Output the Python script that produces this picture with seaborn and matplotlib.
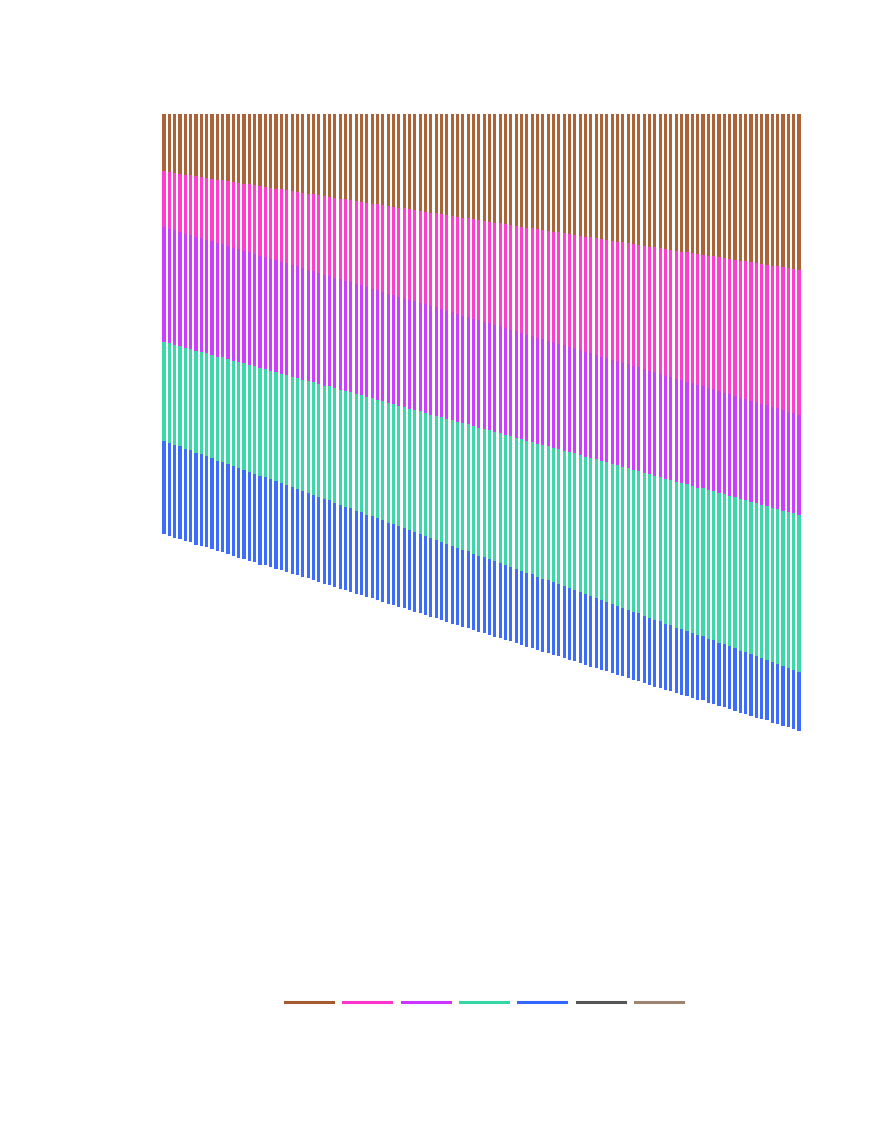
import pandas as pd
import matplotlib.pyplot as plt
import seaborn as sns
from matplotlib.lines import Line2D

# 120 bars, five stacked series hanging down from zero
bars = list(range(1, 121))

brown = [11.4, 11.6, 11.7, 11.9, 12.1, 12.2, 12.4, 12.6, 12.7, 12.9,
         13.1, 13.2, 13.4, 13.6, 13.7, 13.9, 14.0, 14.2, 14.4, 14.5,
         14.7, 14.9, 15.0, 15.2, 15.4, 15.5, 15.7, 15.9, 16.0, 16.2,
         16.4, 16.5, 16.7, 16.9, 17.0, 17.2, 17.4, 17.5, 17.7, 17.9,
         18.0, 18.2, 18.4, 18.5, 18.7, 18.8, 19.0, 19.2, 19.3, 19.5,
         19.7, 19.8, 20.0, 20.2, 20.3, 20.5, 20.7, 20.8, 21.0, 21.2,
         21.3, 21.5, 21.7, 21.8, 22.0, 22.2, 22.3, 22.5, 22.7, 22.8,
         23.0, 23.2, 23.3, 23.5, 23.6, 23.8, 24.0, 24.1, 24.3, 24.5,
         24.6, 24.8, 25.0, 25.1, 25.3, 25.5, 25.6, 25.8, 26.0, 26.1,
         26.3, 26.5, 26.6, 26.8, 27.0, 27.1, 27.3, 27.5, 27.6, 27.8,
         28.0, 28.1, 28.3, 28.4, 28.6, 28.8, 28.9, 29.1, 29.3, 29.4,
         29.6, 29.8, 29.9, 30.1, 30.3, 30.4, 30.6, 30.8, 30.9, 31.1]

pink = [11.2, 11.3, 11.5, 11.6, 11.8, 11.9, 12.1, 12.2, 12.4, 12.5,
        12.7, 12.8, 13.0, 13.1, 13.3, 13.4, 13.6, 13.7, 13.9, 14.0,
        14.2, 14.3, 14.5, 14.6, 14.8, 14.9, 15.1, 15.2, 15.4, 15.5,
        15.7, 15.8, 16.0, 16.1, 16.3, 16.4, 16.6, 16.7, 16.9, 17.0,
        17.2, 17.3, 17.5, 17.6, 17.8, 17.9, 18.1, 18.2, 18.4, 18.5,
        18.7, 18.8, 19.0, 19.1, 19.3, 19.4, 19.6, 19.7, 19.9, 20.0,
        20.2, 20.3, 20.5, 20.6, 20.8, 20.9, 21.1, 21.2, 21.4, 21.5,
        21.7, 21.8, 22.0, 22.1, 22.3, 22.4, 22.6, 22.7, 22.9, 23.0,
        23.2, 23.3, 23.5, 23.6, 23.8, 23.9, 24.1, 24.2, 24.4, 24.5,
        24.7, 24.8, 25.0, 25.1, 25.3, 25.4, 25.6, 25.7, 25.9, 26.0,
        26.2, 26.3, 26.5, 26.6, 26.8, 26.9, 27.1, 27.2, 27.4, 27.5,
        27.7, 27.8, 28.0, 28.1, 28.3, 28.4, 28.6, 28.7, 28.9, 29.0]

purple = [22.9, 22.9, 22.9, 22.8, 22.8, 22.8, 22.8, 22.7, 22.7, 22.7,
          22.7, 22.6, 22.6, 22.6, 22.6, 22.5, 22.5, 22.5, 22.5, 22.4,
          22.4, 22.4, 22.4, 22.3, 22.3, 22.3, 22.3, 22.2, 22.2, 22.2,
          22.2, 22.1, 22.1, 22.1, 22.1, 22.0, 22.0, 22.0, 22.0, 21.9,
          21.9, 21.9, 21.9, 21.9, 21.8, 21.8, 21.8, 21.8, 21.7, 21.7,
          21.7, 21.7, 21.6, 21.6, 21.6, 21.6, 21.5, 21.5, 21.5, 21.5,
          21.4, 21.4, 21.4, 21.4, 21.3, 21.3, 21.3, 21.3, 21.2, 21.2,
          21.2, 21.2, 21.1, 21.1, 21.1, 21.1, 21.0, 21.0, 21.0, 21.0,
          21.0, 20.9, 20.9, 20.9, 20.9, 20.8, 20.8, 20.8, 20.8, 20.7,
          20.7, 20.7, 20.7, 20.6, 20.6, 20.6, 20.6, 20.5, 20.5, 20.5,
          20.5, 20.4, 20.4, 20.4, 20.4, 20.3, 20.3, 20.3, 20.3, 20.2,
          20.2, 20.2, 20.2, 20.1, 20.1, 20.1, 20.1, 20.0, 20.0, 20.0]

teal = [19.8, 19.9, 20.0, 20.1, 20.2, 20.3, 20.4, 20.5, 20.6, 20.7,
        20.8, 20.9, 21.0, 21.1, 21.2, 21.3, 21.4, 21.5, 21.6, 21.7,
        21.7, 21.8, 21.9, 22.0, 22.1, 22.2, 22.3, 22.4, 22.5, 22.6,
        22.7, 22.8, 22.9, 23.0, 23.1, 23.2, 23.3, 23.4, 23.5, 23.6,
        23.7, 23.8, 23.9, 24.0, 24.1, 24.2, 24.3, 24.4, 24.5, 24.6,
        24.7, 24.8, 24.9, 25.0, 25.1, 25.2, 25.3, 25.4, 25.5, 25.6,
        25.6, 25.7, 25.8, 25.9, 26.0, 26.1, 26.2, 26.3, 26.4, 26.5,
        26.6, 26.7, 26.8, 26.9, 27.0, 27.1, 27.2, 27.3, 27.4, 27.5,
        27.6, 27.7, 27.8, 27.9, 28.0, 28.1, 28.2, 28.3, 28.4, 28.5,
        28.6, 28.7, 28.8, 28.9, 29.0, 29.1, 29.2, 29.3, 29.4, 29.5,
        29.5, 29.6, 29.7, 29.8, 29.9, 30.0, 30.1, 30.2, 30.3, 30.4,
        30.5, 30.6, 30.7, 30.8, 30.9, 31.0, 31.1, 31.2, 31.3, 31.4]

blue = [18.7, 18.6, 18.6, 18.5, 18.5, 18.4, 18.4, 18.3, 18.2, 18.2,
        18.1, 18.1, 18.0, 17.9, 17.9, 17.8, 17.8, 17.7, 17.7, 17.6,
        17.5, 17.5, 17.4, 17.4, 17.3, 17.3, 17.2, 17.1, 17.1, 17.0,
        17.0, 16.9, 16.8, 16.8, 16.7, 16.7, 16.6, 16.6, 16.5, 16.4,
        16.4, 16.3, 16.3, 16.2, 16.1, 16.1, 16.0, 16.0, 15.9, 15.9,
        15.8, 15.7, 15.7, 15.6, 15.6, 15.5, 15.5, 15.4, 15.3, 15.3,
        15.2, 15.2, 15.1, 15.0, 15.0, 14.9, 14.9, 14.8, 14.8, 14.7,
        14.6, 14.6, 14.5, 14.5, 14.4, 14.4, 14.3, 14.2, 14.2, 14.1,
        14.1, 14.0, 13.9, 13.9, 13.8, 13.8, 13.7, 13.7, 13.6, 13.5,
        13.5, 13.4, 13.4, 13.3, 13.2, 13.2, 13.1, 13.1, 13.0, 13.0,
        12.9, 12.8, 12.8, 12.7, 12.7, 12.6, 12.6, 12.5, 12.4, 12.4,
        12.3, 12.3, 12.2, 12.1, 12.1, 12.0, 12.0, 11.9, 11.9, 11.8]

series_names = ['s1', 's2', 's3', 's4', 's5', 's6', 's7']
line_colors = ['#a65a32', '#ff33cc', '#cc33ff', '#33d6a5', '#3366ff', '#555555', '#9c8570']
bar_colors = ['#ad6338', '#ff3dce', '#cd3dff', '#3dd8aa', '#3d6dff']
stack = [brown, pink, purple, teal, blue]

fig = plt.figure(figsize=(8.86, 11.3), dpi=100)
ax = fig.add_axes([161.3 / 886, 166 / 1130, 640.4 / 886, 850 / 1130])

# cumulative depth of each layer (values hang downward from 0)
rows = []
for k in range(len(stack)):
    for i, b in enumerate(bars):
        rows.append({'bar': b, 'layer': k, 'depth': -sum(s[i] for s in stack[:k + 1])})
df = pd.DataFrame(rows)

# draw deepest layer first, shallower ones on top
for k in reversed(range(len(stack))):
    sub = df[df['layer'] == k]
    sns.barplot(data=sub, x='bar', y='depth', color=bar_colors[k], width=0.58,
                saturation=1, linewidth=0, ax=ax, order=bars)

ax.set_ylim(-170, 0)
ax.set_xlim(-0.5, len(bars) - 0.5)
ax.axis('off')

handles = [Line2D([0], [0], color=c, lw=2.2) for c in line_colors]
fig.legend(handles, ['' for _ in series_names], loc='center', ncol=7,
           bbox_to_anchor=(484 / 886, 1 - 1003 / 1130), frameon=False,
           handlelength=3.45, handletextpad=0, columnspacing=0.75)

fig.savefig('out.png', dpi=100)
